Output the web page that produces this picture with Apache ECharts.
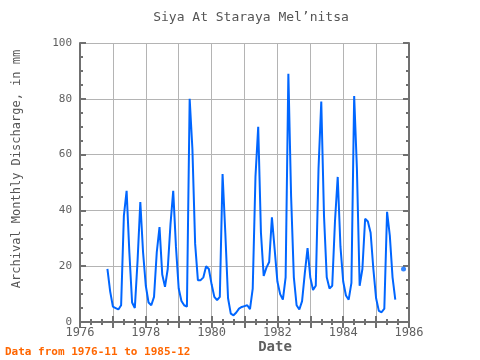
<!DOCTYPE html>
<html>
<head>
<meta charset="utf-8">
<script src="https://cdn.jsdelivr.net/npm/echarts@6/dist/echarts.min.js"></script>
<style>html,body{margin:0;padding:0;background:#fff}#c{width:480px;height:360px}</style>
</head>
<body>
<div id="c"></div>
<script>
const months = [
  "1976-11","1976-12",
  "1977-01","1977-02","1977-03","1977-04","1977-05","1977-06","1977-07","1977-08","1977-09","1977-10","1977-11","1977-12",
  "1978-01","1978-02","1978-03","1978-04","1978-05","1978-06","1978-07","1978-08","1978-09","1978-10","1978-11","1978-12",
  "1979-01","1979-02","1979-03","1979-04","1979-05","1979-06","1979-07","1979-08","1979-09","1979-10","1979-11","1979-12",
  "1980-01","1980-02","1980-03","1980-04","1980-05","1980-06","1980-07","1980-08","1980-09","1980-10","1980-11","1980-12",
  "1981-01","1981-02","1981-03","1981-04","1981-05","1981-06","1981-07","1981-08","1981-09","1981-10","1981-11","1981-12",
  "1982-01","1982-02","1982-03","1982-04","1982-05","1982-06","1982-07","1982-08","1982-09","1982-10","1982-11","1982-12",
  "1983-01","1983-02","1983-03","1983-04","1983-05","1983-06","1983-07","1983-08","1983-09","1983-10","1983-11","1983-12",
  "1984-01","1984-02","1984-03","1984-04","1984-05","1984-06","1984-07","1984-08","1984-09","1984-10","1984-11","1984-12",
  "1985-01","1985-02","1985-03","1985-04","1985-05","1985-06","1985-07","1985-08","1985-09","1985-10","1985-11","1985-12"
];
const discharge = [
  19, 11,
  5.5, 5, 4.5, 6, 38, 47, 25, 7, 5, 22, 43, 25,
  13, 7, 6, 9, 25, 34, 17, 12.6, 19, 35, 47, 27,
  12, 7.5, 6, 5.5, 80, 62, 28, 15, 15, 16, 20, 19,
  13.5, 9, 7.8, 9, 53, 32, 8.5, 3, 2.4, 3.4, 4.8, 5.4,
  5.7, 6, 4.6, 12, 52, 70, 32, 16.5, 19.5, 21.5, 37.5, 26,
  14.5, 10, 8, 16, 89, 45, 16, 6, 4.5, 7.5, 17.5, 26.5,
  16, 11.5, 13, 55, 79, 38, 16, 12, 13, 36, 52, 27,
  14.5, 9.5, 8, 14, 81, 55, 13, 19, 37, 36, 32, 19,
  8.5, 4, 3.5, 4.8, 39.5, 31, 16, 8, null, null, 19, null
];
const xTicks = [1976, 1978, 1980, 1982, 1984, 1986];
const titleText = "Siya At Staraya Mel\u2019nitsa";
const yName = "Archival Monthly Discharge, in mm";
const xName = "Date";
const footer = "Data from 1976-11 to 1985-12";

function toX(s){ const p = s.split('-'); return +p[0] + (+p[1]-1)/12; }
const lineData = months.map((m,i)=>[toX(m), discharge[i]==null ? '-' : discharge[i]]);
const isolated = [];
discharge.forEach((v,i)=>{
  if (v==null) return;
  const prev = i>0 ? discharge[i-1] : null;
  const next = i<discharge.length-1 ? discharge[i+1] : null;
  if (prev==null && next==null) isolated.push([toX(months[i]), v]);
});

const FONT = "DejaVu Sans Mono";
const axisCol = '#707070';
const gridCol = '#b4b4b4';
const labCol = '#606060';

function xa(pos, labels){
  return {
    type:'value', min:1976, max:1986, interval:1, position:pos,
    axisLine:{show:true, lineStyle:{color:axisCol, width:2}},
    axisTick:{show:true, inside:true, length:6, lineStyle:{color:axisCol, width:2}},
    minorTick:{show:true, splitNumber:3, length:3, lineStyle:{color:axisCol, width:2}},
    splitLine:{show:labels, lineStyle:{color:gridCol, width:1}},
    axisLabel:{show:labels, margin:5, color:labCol, fontFamily:FONT, fontSize:12,
      formatter:v=> xTicks.indexOf(v)>=0 ? String(v) : ''}
  };
}
function ya(pos, labels){
  return {
    type:'value', min:0, max:100, interval:20, position:pos,
    axisLine:{show:true, lineStyle:{color:axisCol, width:2}},
    axisTick:{show:true, inside:true, length:6, lineStyle:{color:axisCol, width:2}},
    minorTick:{show:true, splitNumber:4, length:3, lineStyle:{color:axisCol, width:2}},
    splitLine:{show:labels, lineStyle:{color:gridCol, width:1}},
    axisLabel:{show:labels, margin:8, color:labCol, fontFamily:FONT, fontSize:11}
  };
}

const chart = echarts.init(document.getElementById('c'), null, {renderer:'canvas'});
chart.setOption({
  animation:false,
  grid:{left:80, right:71, top:43, bottom:38},
  xAxis:[xa('bottom', true), xa('top', false)],
  yAxis:[ya('left', true), ya('right', false)],
  series:[
    {type:'line', data:lineData, showSymbol:false, connectNulls:false,
     lineStyle:{color:'#0066ff', width:2}, itemStyle:{color:'#0066ff'}},
    {type:'scatter', data:isolated, symbol:'circle', symbolSize:5,
     itemStyle:{color:'#0066ff'}}
  ],
  graphic:[
    {type:'text', x:251, y:18, style:{text:titleText, fill:'#555', fontFamily:FONT, fontSize:13, align:'center', verticalAlign:'middle'}},
    {type:'text', x:17, y:169, rotation:Math.PI/2, style:{text:yName, fill:'#555', fontFamily:FONT, fontSize:12, align:'center', verticalAlign:'middle'}},
    {type:'text', x:275, y:347, style:{text:xName, fill:'#606060', fontFamily:FONT, fontSize:14, fontWeight:'bold', align:'center', verticalAlign:'middle'}},
    {type:'text', x:5, y:352, style:{text:footer, fill:'#ff6600', fontFamily:FONT, fontSize:11, fontWeight:'bold', align:'left', verticalAlign:'middle'}}
  ]
});
</script>
</body>
</html>
